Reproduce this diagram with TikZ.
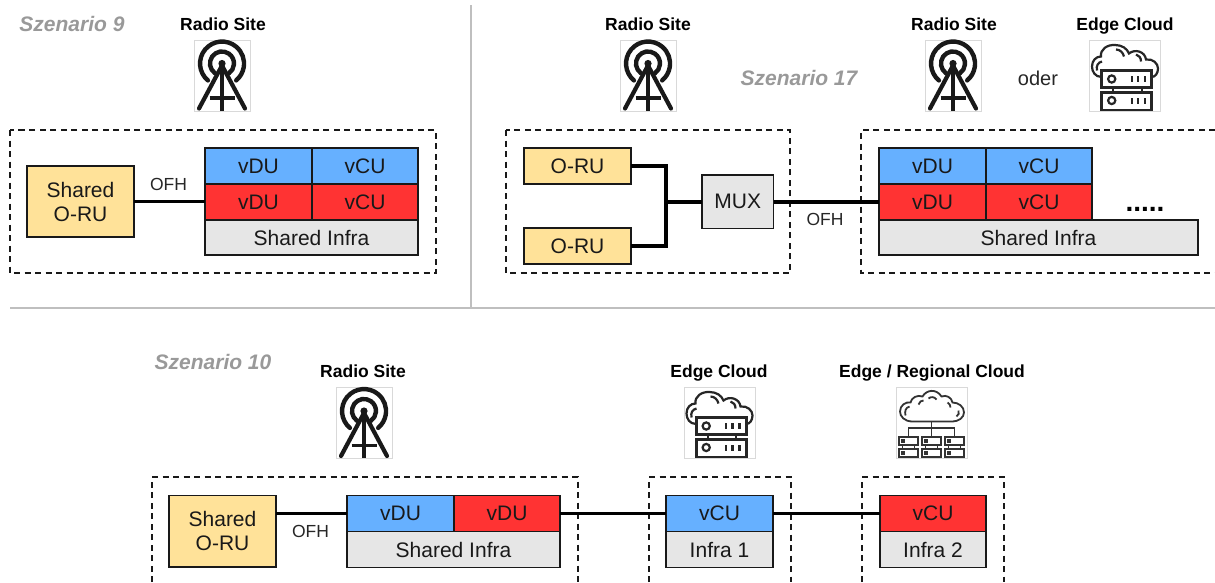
\documentclass[tikz,border=0pt]{standalone}
\usepackage{fontspec}
\setmainfont{Liberation Sans}
\usetikzlibrary{positioning}
\definecolor{tileblue}{HTML}{66B0FF}
\definecolor{tilered}{HTML}{FF3333}
\definecolor{oruyellow}{HTML}{FFE299}
\definecolor{infragray}{HTML}{E6E6E6}
\tikzset{
	tile/.style={
		rectangle,
		draw=black!90, line width=1.8pt,
		inner sep=0pt, outer sep=0pt,
		minimum width=107pt,
		minimum height=36pt,
		text=black!90,
		align=center,
		font=\fontsize{21}{24}\selectfont},
	blue tile/.style={tile, fill=tileblue},
	red tile/.style={tile, fill=tilered},
	oru/.style={tile, fill=oruyellow},
	infra/.style={tile, fill=infragray},
	sitelabel/.style={font=\fontsize{17.5}{20}\selectfont\bfseries, inner sep=0pt, anchor=base},
	ofhlabel/.style={font=\fontsize{17.5}{20}\selectfont, text=black!85, inner sep=0pt},
	szenario/.style={font=\fontsize{21}{24}\selectfont\bfseries\itshape, text=black!40, inner sep=0pt},
	dashbox/.style={draw=black!90, line width=1.5pt, dash pattern=on 6pt off 4.5pt},
	conn/.style={draw=black, line width=3.5pt},
	divider/.style={draw=black!25, line width=2pt},
	iconframe/.style={draw=black!15, line width=.8pt, fill=white},
	radioicon/.pic={
		\draw[iconframe] (-28,-35.5) rectangle (28,35.5);
		\draw[line width=4.4pt, line cap=round, black!90] (-14.1,4.9) arc[start angle=230, end angle=-50, radius=22pt];
		\draw[line width=4.4pt, line cap=round, black!90] (-6.9,-2.2) arc[start angle=235, end angle=-55, radius=12pt];
		\fill[black!90] (0,-12) circle (3.6pt);
		\draw[line width=4.2pt, line cap=round, black!90] (-23,33) -- (0,-10) -- (23,33);
		\draw[line width=4.2pt, black!90] (0,-12) -- (0,35);
		\draw[line width=3.6pt, black!90] (-12.5,22.5) -- (12.5,22.5);
	},
	edgeicon/.pic={
		\draw[iconframe] (-35.5,-35.5) rectangle (35.5,35.5);
		\begin{scope}[line width=2.2pt, black!85]
			\draw (-23.3,1.5) .. controls (-30,1.5) and (-33,-4) .. (-33,-9) .. controls (-33,-15) and (-29,-19) .. (-24,-19)
				.. controls (-25,-26) and (-18,-31) .. (-10,-30.5) .. controls (-3,-30.5) and (2,-27) .. (4,-22)
				.. controls (10,-27) and (20,-24) .. (21,-16) .. controls (28,-17) and (33,-12) .. (33,-7)
				.. controls (33,-2) and (30,1.5) .. (26.7,1.5);
			\draw (-28,-5) .. controls (-29,-10) and (-27,-13) .. (-23,-14);
			\draw (-9,-26) .. controls (-5,-26) and (-2,-23) .. (-1,-19);
			\draw (11,-21) .. controls (14,-20) and (16,-18) .. (16,-14);
			\draw[line width=2.6pt] (-23.3,-4.8) rectangle (26.7,11.8);
			\draw[line width=2.6pt] (-23.3,17.2) rectangle (26.7,34.5);
			\draw (-11.7,11.8) -- (-11.7,17.2) (16.7,11.8) -- (16.7,17.2);
			\draw (-13.3,3.5) circle (3.6pt);
			\draw (-13.3,25) circle (3.6pt);
			\foreach \tickx in {6.7,13,20} {
				\draw (\tickx,0.5) -- (\tickx,6.5);
				\draw (\tickx,22.5) -- (\tickx,28);
			}
		\end{scope}
	},
	regionalicon/.pic={
		\draw[iconframe] (-35.5,-35.5) rectangle (35.5,35.5);
		\begin{scope}[line width=1.8pt, black!80]
			\draw (-19,-1) .. controls (-27,-1) and (-31.5,-6) .. (-31.5,-11) .. controls (-31.5,-17) and (-26,-21) .. (-21,-20)
				.. controls (-20,-25) and (-14,-28) .. (-9,-26) .. controls (-5,-33) and (5,-34) .. (10,-26)
				.. controls (15,-28) and (20,-25) .. (21,-20) .. controls (27,-20) and (32.5,-16) .. (32.5,-10)
				.. controls (32.5,-5) and (27,-1) .. (21,-1) -- cycle;
			\draw (-26,-7) .. controls (-27,-11) and (-26,-15) .. (-22,-16);
			\draw (-13,-18) .. controls (-12,-21) and (-10,-22) .. (-8,-22);
			\draw (-3,-24) .. controls (-1,-26) and (3,-26) .. (5,-23);
			\draw (16,-20) .. controls (18,-19) and (19,-17) .. (19,-15);
			\draw (27,-12) .. controls (28,-10) and (27,-7) .. (25,-6);
			\draw (0,-1) -- (0,14.8) (-23,14.8) -- (-23,5.8) -- (23,5.8) -- (23,14.8);
			\foreach \rackx in {-23,0,23} {
				\foreach \racky in {14.8,26.8} {
					\draw (\rackx-9.3,\racky) rectangle (\rackx+9.3,\racky+8);
					\fill (\rackx-7.5,\racky+2) rectangle (\rackx-3.5,\racky+6);
				}
				\draw (\rackx-6,22.8) -- (\rackx-6,26.8) (\rackx+6,22.8) -- (\rackx+6,26.8);
			}
		\end{scope}
	},
}
\begin{document}
\begin{tikzpicture}[x=1pt, y=-1pt]
	\useasboundingbox (0,0) rectangle (1215,582);
	\draw[divider] (471,5) -- (471,308);
	\draw[divider] (10,308) -- (1215,308);

	% Szenario 9
	\node[szenario] (sznine) at (72,24) {Szenario 9};
	\node[sitelabel] (sitea) at (223,30) {Radio Site};
	\pic (radioa) at (222,75.5) {radioicon};
	\draw[dashbox] (10,130) rectangle (436,273);
	\node[oru, anchor=north west, minimum height=71pt] (sharedoru) at (27,166) {Shared\\O-RU};
	\node[blue tile, anchor=north west] (vduba) at (205,148) {vDU};
	\node[blue tile, right=0pt of vduba, minimum width=106pt] (vcuba) {vCU};
	\node[red tile, below=0pt of vduba] (vdura) {vDU};
	\node[red tile, right=0pt of vdura, minimum width=106pt] (vcura) {vCU};
	\node[infra, below=0pt of vdura.south west, anchor=north west, minimum width=213pt, minimum height=35pt] (infraa) {Shared Infra};
	\draw[conn] (sharedoru.east) -- (sharedoru.east -| vdura.west);
	\node[ofhlabel] (ofha) at (168.5,184) {OFH};

	% Szenario 17
	\node[sitelabel] (siteb) at (648,30) {Radio Site};
	\pic (radiob) at (648,75.5) {radioicon};
	\node[szenario] (szseventeen) at (799,77.5) {Szenario 17};
	\node[sitelabel] (sitec) at (954,30) {Radio Site};
	\pic (radioc) at (953,75.5) {radioicon};
	\node[ofhlabel, font=\fontsize{20}{24}\selectfont] (oder) at (1038,78) {oder};
	\node[sitelabel] (edgea) at (1125,30) {Edge Cloud};
	\pic (cloudedgea) at (1125,75.5) {edgeicon};
	\draw[dashbox] (506,130) rectangle (790,273);
	\draw[dashbox] (1215,130) -- (861,130) -- (861,273) -- (1215,273);
	\node[oru, anchor=north west] (orua) at (524,148) {O-RU};
	\node[oru, anchor=north west] (orub) at (524,228) {O-RU};
	\node[infra, anchor=north west, minimum width=71.5pt, minimum height=53.5pt] (mux) at (702,175) {MUX};
	\coordinate (muxjoin) at (mux.west -| 666,0);
	\node[blue tile, anchor=north west] (vdubb) at (879,148) {vDU};
	\node[blue tile, right=0pt of vdubb, minimum width=106pt] (vcubb) {vCU};
	\node[red tile, below=0pt of vdubb] (vdurb) {vDU};
	\node[red tile, right=0pt of vdurb, minimum width=106pt] (vcurb) {vCU};
	\node[infra, below=0pt of vdurb.south west, anchor=north west, minimum width=319pt, minimum height=35pt] (infrab) {Shared Infra};
	\node[font=\fontsize{28}{30}\selectfont\bfseries, anchor=base, inner sep=0pt] (moredots) at (1145,211) {.....};
	\draw[conn] (orua.east) -| (muxjoin) |- (orub.east);
	\draw[conn] (muxjoin) -- (mux.west);
	\draw[conn] (mux.east) -- (mux.east -| vdurb.west);
	\node[ofhlabel] (ofhb) at (825,219) {OFH};

	% Szenario 10
	\node[szenario] (szten) at (213,362) {Szenario 10};
	\node[sitelabel] (sited) at (363,377) {Radio Site};
	\pic (radiod) at (364,423) {radioicon};
	\node[sitelabel] (edgeb) at (719,377) {Edge Cloud};
	\pic (cloudedgeb) at (719.5,422.5) {edgeicon};
	\node[sitelabel] (regional) at (932,377) {Edge / Regional Cloud};
	\pic (cloudregional) at (931.5,422.5) {regionalicon};
	\draw[dashbox] (152,582) -- (152,477) -- (578,477) -- (578,582);
	\draw[dashbox] (649,582) -- (649,477) -- (791,477) -- (791,582);
	\draw[dashbox] (862,582) -- (862,477) -- (1004,477) -- (1004,582);
	\node[oru, anchor=north west, minimum height=71.5pt] (sharedorub) at (169,495.5) {Shared\\O-RU};
	\node[blue tile, anchor=north west] (vduc) at (347,495.5) {vDU};
	\node[red tile, right=0pt of vduc, minimum width=106pt] (vdud) {vDU};
	\node[infra, below=0pt of vduc.south west, anchor=north west, minimum width=213pt] (infrac) {Shared Infra};
	\node[blue tile, anchor=north west] (vcuc) at (666,495.5) {vCU};
	\node[infra, below=0pt of vcuc] (infraone) {Infra 1};
	\node[red tile, anchor=north west, minimum width=106pt] (vcud) at (880,495.5) {vCU};
	\node[infra, below=0pt of vcud, minimum width=106pt] (infratwo) {Infra 2};
	\draw[conn] (sharedorub.east |- vduc.west) -- (vduc.west);
	\draw[conn] (vdud.east) -- (vcuc.west);
	\draw[conn] (vcuc.east) -- (vcud.west);
	\node[ofhlabel] (ofhc) at (310.5,531) {OFH};
\end{tikzpicture}
\end{document}
